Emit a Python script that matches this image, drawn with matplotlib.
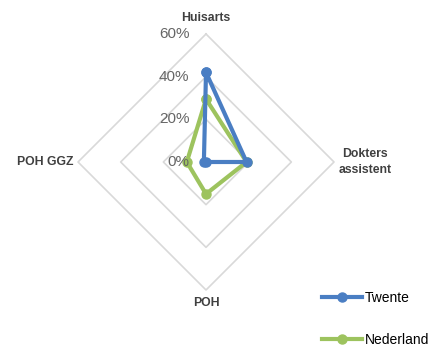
import numpy as np
import matplotlib
matplotlib.use("Agg")
import matplotlib.pyplot as plt

plt.rcParams['font.family'] = ['Liberation Sans', 'DejaVu Sans']

categories = ["Huisarts", "Dokters\nassistent", "POH", "POH GGZ"]
twente = [42, 19, 0, 1]
nederland = [29.5, 19, 15, 9]
rings = [20, 40, 60]
ring_labels = ["0%", "20%", "40%", "60%"]

angles = np.linspace(0, 2 * np.pi, len(categories), endpoint=False)
closed = np.append(angles, angles[0])

fig = plt.figure(figsize=(4.4, 3.48), dpi=100)
ax = fig.add_axes([0.1773, 0.1667, 0.5818, 0.7356], projection="polar")
ax.set_theta_offset(np.pi / 2)
ax.set_theta_direction(-1)
ax.set_ylim(0, 60)
ax.grid(False)
ax.spines["polar"].set_visible(False)
ax.set_xticks([])
ax.set_yticks([])
ax.patch.set_visible(False)

# diamond grid
for r in rings:
    ax.plot(closed, [r] * len(closed), color="#D9D9D9", lw=1.2, zorder=1, clip_on=False)

# value labels along top axis
for i, lab in enumerate(ring_labels):
    ax.annotate(lab, xy=(0, i * 20), xytext=(-12, 0), textcoords="offset points",
                ha="right", va="center", fontsize=11, color="#666666", zorder=4)

# category labels
lab_kw = dict(fontsize=8.8, fontweight="bold", color="#404040", va="center")
ax.text(0, 67.5, categories[0], ha="center", **lab_kw)
ax.text(np.pi / 2, 74.5, categories[1], ha="center", multialignment="center", linespacing=1.45, **lab_kw)
ax.text(np.pi, 66, categories[2], ha="center", **lab_kw)
ax.text(3 * np.pi / 2, 62.3, categories[3], ha="right", **lab_kw)

ax.plot(closed, twente + [twente[0]], color="#4A7EC3", lw=3, marker="o", ms=6.5,
        label="Twente", zorder=3, clip_on=False)
ax.plot(closed, nederland + [nederland[0]], color="#9DC35E", lw=3, marker="o", ms=6.5,
        label="Nederland", zorder=2, clip_on=False)

fig.legend(loc="center left", bbox_to_anchor=(0.732, 0.083), frameon=False, fontsize=10,
           handlelength=2.9, handletextpad=0.2, labelspacing=2.0, borderpad=0, borderaxespad=0)

fig.savefig("out.png", dpi=100)
